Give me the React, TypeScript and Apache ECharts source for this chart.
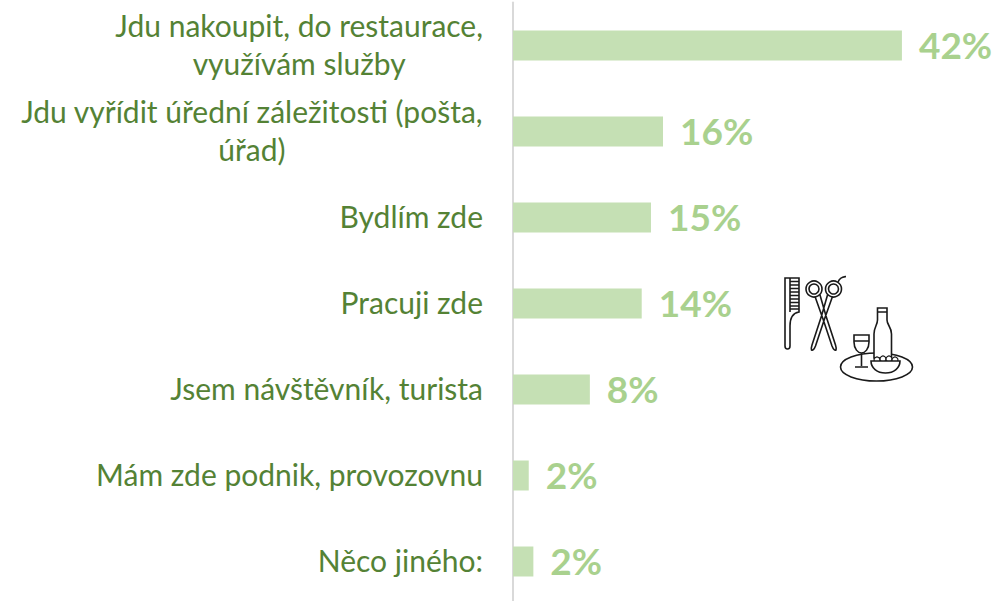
import React, { useEffect, useRef } from "react";
import * as echarts from "echarts";

const categories = [
  "Jdu nakoupit, do restaurace,\nvyužívám služby",
  "Jdu vyřídit úřední záležitosti (pošta,\núřad)",
  "Bydlím zde",
  "Pracuji zde",
  "Jsem návštěvník, turista",
  "Mám zde podnik, provozovnu",
  "Něco jiného:",
];
const values = [42, 16.2, 14.9, 13.9, 8.3, 1.7, 2.2];

const ink = "#1a1a1a";
const iconPaths: Record<string, string> = {
  iconComb:
    "M785,278 H799 V312 C793,313 790,318 790,326 V346 Q790,349 787.5,349 Q785,349 785,346 Z M790,278 V312 M790,281.5 H799 M790,285 H799 M790,288.5 H799 M790,292 H799 M790,295.5 H799 M790,299 H799 M790,302.5 H799 M790,306 H799 M790,309 H799",
  iconScissors:
    "M815,296.5 L823,319 L832,346 Q834,351 836,350 Q836.5,348 835.5,345 L826,316 L820,295 " +
    "M832.5,296.5 L824.5,319 L815.5,346 Q813.5,351 811.5,350 Q811,348 812,345 L821.5,316 L827.5,295 " +
    "M838,282 C840,277 843,277 846,276.5",
  iconGlass:
    "M854,335 H869 V342 C869,349 865,353 861.5,353 C858,353 854,349 854,342 Z M854,341 H869 M861.5,353 V366 M855,367 H868",
  iconBottle:
    "M877.5,308 H887 V320 C887,325 891.5,327 891.5,334 V358 H874 V334 C874,327 877.5,325 877.5,320 Z M877.5,312 H887",
  iconBowl:
    "M871,361 H900 C900,368 894,373 885.5,373 C877,373 871,368 871,361 Z",
};
Object.entries(iconPaths).forEach(([name, d]) => {
  echarts.graphic.registerShape(name, echarts.graphic.extendPath(d, {}));
});

export default function App() {
  const ref = useRef<HTMLDivElement>(null);
  useEffect(() => {
    document.body.style.margin = "0";
    document.body.style.background = "#ffffff";
    const chart = echarts.init(ref.current!, null, { renderer: "svg" });
    const lineStyle = { fill: "none", stroke: ink, lineWidth: 1.6 };
    const filled = { fill: "#ffffff", stroke: ink, lineWidth: 1.6 };
    const olive = { fill: "#ffffff", stroke: ink, lineWidth: 1.2 };
    chart.setOption({
      animation: false,
      backgroundColor: "#ffffff",
      grid: { left: 513, top: 2.5, width: 463, height: 602, containLabel: false, outerBoundsMode: "none" },
      xAxis: { type: "value", min: 0, max: 50, show: false },
      yAxis: {
        type: "category",
        inverse: true,
        data: categories,
        axisLine: { show: true, lineStyle: { color: "#D9D9D9", width: 2 } },
        axisTick: { show: false },
        axisLabel: {
          margin: 30,
          align: "right",
          padding: [0, 0, 3, 0],
          formatter: (v: string) =>
            v
              .split("\n")
              .map((line) => `{c|${line}}`)
              .join("\n"),
          rich: {
            c: {
              align: "center",
              color: "#548235",
              fontFamily: "Lato",
              fontSize: 30,
              lineHeight: 38,
            },
          },
        },
      },
      series: [
        {
          type: "bar",
          data: values,
          barWidth: 30,
          itemStyle: { color: "#C5E0B4" },
          label: {
            show: true,
            position: "right",
            distance: 17,
            offset: [0, -1],
            color: "#A9D18E",
            fontFamily: "Lato",
            fontWeight: "bold",
            fontSize: 37,
            formatter: (p: any) => Math.round(p.value) + "%",
          },
        },
      ],
      graphic: [
        { type: "iconComb", x: 0, y: 0, style: lineStyle },
        { type: "circle", shape: { cx: 814, cy: 289, r: 8 }, style: lineStyle },
        { type: "circle", shape: { cx: 814, cy: 289, r: 5 }, style: lineStyle },
        { type: "circle", shape: { cx: 833.5, cy: 289, r: 8 }, style: lineStyle },
        { type: "circle", shape: { cx: 833.5, cy: 289, r: 5 }, style: lineStyle },
        { type: "iconScissors", x: 0, y: 0, style: lineStyle },
        { type: "ellipse", shape: { cx: 876.5, cy: 367, rx: 36, ry: 14 }, style: lineStyle },
        { type: "iconBottle", x: 0, y: 0, style: filled },
        { type: "iconGlass", x: 0, y: 0, style: filled },
        { type: "circle", shape: { cx: 877, cy: 360, r: 3 }, style: olive },
        { type: "circle", shape: { cx: 883, cy: 359, r: 3 }, style: olive },
        { type: "circle", shape: { cx: 889, cy: 359, r: 3 }, style: olive },
        { type: "circle", shape: { cx: 895, cy: 360, r: 3 }, style: olive },
        { type: "iconBowl", x: 0, y: 0, style: filled },
      ],
    });
    return () => chart.dispose();
  }, []);
  return <div ref={ref} style={{ width: 1007, height: 601 }} />;
}
